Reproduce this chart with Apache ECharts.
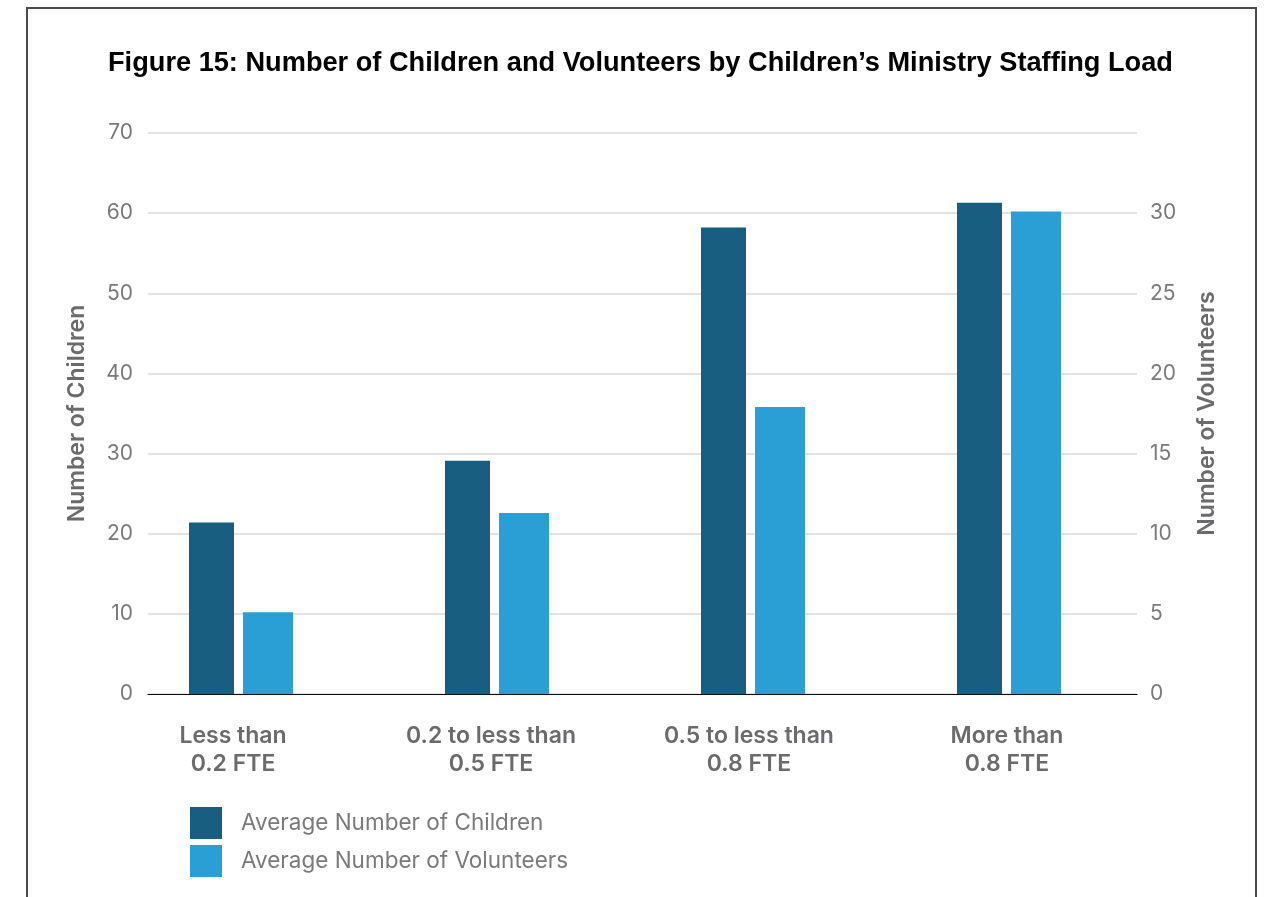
<!DOCTYPE html>
<html>
<head>
<meta charset="utf-8">
<script src="https://cdn.jsdelivr.net/npm/echarts@6/dist/echarts.min.js"></script>
<style>
  html, body { margin: 0; padding: 0; background: #ffffff; }
  #chart { width: 1268px; height: 897px; }
</style>
</head>
<body>
<div id="chart"></div>
<script>
// Staffing-load categories (two-line axis labels)
const categories = [
  'Less than\n0.2 FTE',
  '0.2 to less than\n0.5 FTE',
  '0.5 to less than\n0.8 FTE',
  'More than\n0.8 FTE'
];
// Average number of children (left axis, 0–70)
const childrenValues = [21.4, 29.1, 58.2, 61.3];
// Average number of volunteers (right axis, 0–35)
const volunteerValues = [5.1, 11.3, 17.9, 30.1];

const seriesNames = ['Average Number of Children', 'Average Number of Volunteers'];
const axisNames = ['Number of Children', 'Number of Volunteers'];
const titleText = 'Figure 15: Number of Children and Volunteers by Children\u2019s Ministry Staffing Load';

const DARK = '#175e81';
const LIGHT = '#299fd6';
const TICK_GREY = '#7a7a7a';
const LABEL_GREY = '#6b6b6e';
const FONT = 'Inter, "Liberation Sans", Arial, sans-serif';

const chart = echarts.init(document.getElementById('chart'), null, { renderer: 'canvas' });

chart.setOption({
  backgroundColor: '#ffffff',
  animation: false,
  title: {
    text: titleText,
    left: 108,
    top: 50,
    padding: 0,
    textStyle: {
      fontFamily: '"Liberation Sans", Arial, sans-serif',
      fontWeight: 'bold',
      fontSize: 27.2,
      color: '#000000'
    }
  },
  graphic: [{
    type: 'polyline',
    shape: { points: [[27, 897], [27, 8], [1256, 8], [1256, 897]] },
    style: { stroke: '#4a4a4a', lineWidth: 2, fill: null },
    silent: true
  }],
  legend: {
    orient: 'vertical',
    left: 190,
    top: 807,
    padding: 0,
    itemWidth: 32,
    itemHeight: 32,
    itemGap: 6,
    icon: 'rect',
    data: seriesNames,
    textStyle: {
      fontFamily: FONT,
      fontSize: 22.5,
      color: TICK_GREY,
      padding: [0, 0, 0, 14]
    }
  },
  grid: [
    // grid 0: value axes, gridlines and baseline
    { left: 148, right: 131, top: 133, bottom: 203, containLabel: false },
    // grid 1: bars
    { left: 113, right: 131, top: 133, bottom: 203, containLabel: false },
    // grid 2: category labels
    { left: 104, right: 132, top: 133, bottom: 203, containLabel: false }
  ],
  xAxis: [
    {
      gridIndex: 0,
      type: 'category',
      data: categories,
      axisLine: { show: true, lineStyle: { color: '#111111', width: 1.2 } },
      axisTick: { show: false },
      axisLabel: { show: false },
      splitLine: { show: false }
    },
    {
      gridIndex: 1,
      type: 'category',
      data: categories,
      show: false
    },
    {
      gridIndex: 2,
      type: 'category',
      data: categories,
      axisLine: { show: false },
      axisTick: { show: false },
      axisLabel: {
        margin: 28,
        fontFamily: FONT,
        fontSize: 23,
        fontWeight: 600,
        lineHeight: 28,
        color: LABEL_GREY,
        interval: 0
      },
      splitLine: { show: false }
    }
  ],
  yAxis: [
    {
      gridIndex: 0,
      type: 'value',
      min: 0,
      max: 70,
      interval: 10,
      name: axisNames[0],
      nameLocation: 'middle',
      nameGap: 59,
      nameTextStyle: {
        fontFamily: FONT,
        fontSize: 23,
        fontWeight: 600,
        color: LABEL_GREY
      },
      axisLine: { show: false },
      axisTick: { show: false },
      axisLabel: {
        margin: 15,
        fontFamily: FONT,
        fontSize: 21,
        color: TICK_GREY
      },
      splitLine: { show: true, lineStyle: { color: '#e2e2e2', width: 2 } }
    },
    {
      gridIndex: 0,
      type: 'value',
      position: 'right',
      min: 0,
      max: 35,
      interval: 5,
      name: axisNames[1],
      nameLocation: 'middle',
      nameGap: 59,
      nameTextStyle: {
        fontFamily: FONT,
        fontSize: 23,
        fontWeight: 600,
        color: LABEL_GREY
      },
      axisLine: { show: false },
      axisTick: { show: false },
      axisLabel: {
        margin: 13,
        fontFamily: FONT,
        fontSize: 21,
        color: TICK_GREY,
        showMaxLabel: false
      },
      splitLine: { show: false }
    },
    { gridIndex: 1, type: 'value', min: 0, max: 70, interval: 10, show: false },
    { gridIndex: 1, type: 'value', min: 0, max: 35, interval: 5, show: false },
    { gridIndex: 2, type: 'value', min: 0, max: 70, interval: 10, show: false }
  ],
  series: [
    {
      name: seriesNames[0],
      type: 'bar',
      xAxisIndex: 1,
      yAxisIndex: 2,
      data: childrenValues,
      barWidth: 45,
      barGap: '20%',
      itemStyle: { color: DARK }
    },
    {
      name: seriesNames[1],
      type: 'bar',
      xAxisIndex: 1,
      yAxisIndex: 3,
      data: volunteerValues,
      barWidth: 50,
      barGap: '20%',
      itemStyle: { color: LIGHT }
    }
  ]
});
</script>
</body>
</html>
